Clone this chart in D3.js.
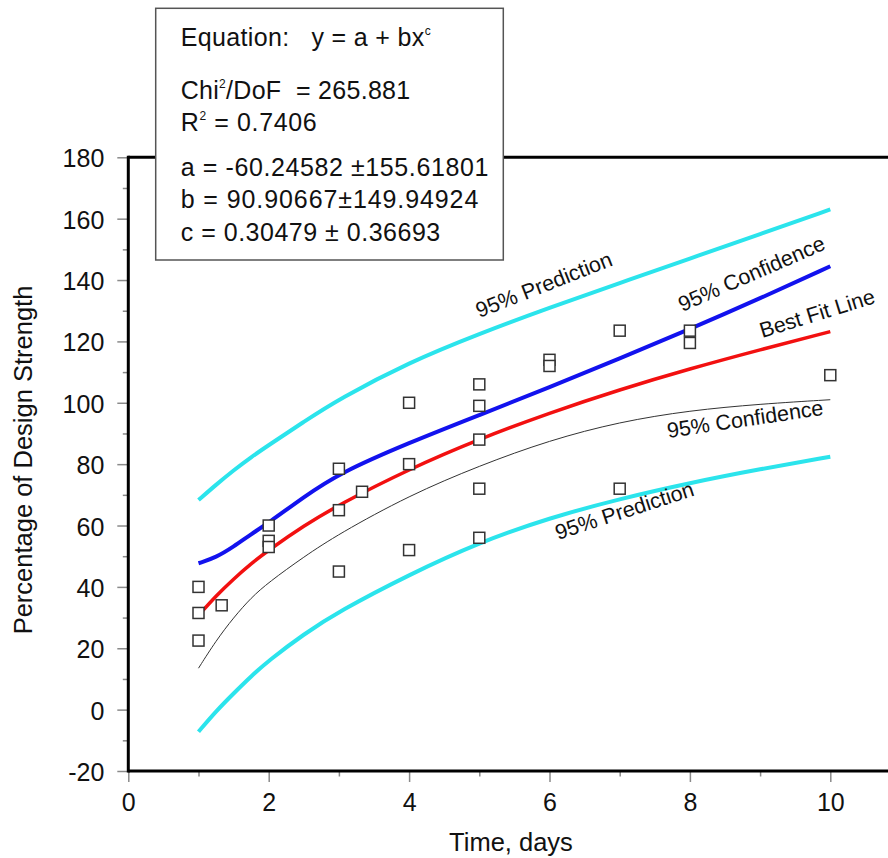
<!DOCTYPE html>
<html>
<head>
<meta charset="utf-8">
<script src="https://cdn.jsdelivr.net/npm/d3@7"></script>
<style>
  html, body { margin: 0; padding: 0; background: #fff; }
  svg { display: block; font-family: Arial, "Liberation Sans", sans-serif; }
</style>
</head>
<body>
<svg id="chart" width="888" height="858"></svg>
<script>
// Observed strengths (% of design) by age in days
const timeObs = [1, 1, 1, 1.33, 2, 2, 2, 3, 3, 3, 3.33, 4, 4, 4, 5, 5, 5, 5, 5, 6, 6, 7, 7, 8, 8, 10];
const strengthObs = [40, 31.5, 22.5, 34, 60, 55, 53, 78.5, 65, 45, 71, 100, 80, 52, 106, 99, 88, 72, 56, 114, 112, 123.5, 72, 123.5, 119.5, 109];

// Fitted curve and bands sampled along the time axis
const curveTime = [1, 1.25, 1.5, 1.75, 2, 2.5, 3, 4, 5, 6, 7, 8, 9, 10];
const bestFit   = [30.7, 37.1, 42.6, 47.6, 52.0, 59.9, 66.8, 78.4, 88.2, 96.7, 104.3, 111.1, 117.3, 123.2];
const confUpper = [47.7, 49.6, 53.1, 57.2, 60.9, 69.3, 77, 87, 96, 105, 114.5, 124, 134, 144.5];
const confLower = [13.5, 22.5, 30, 36.5, 41.5, 49.8, 57.3, 69.8, 79.5, 87.8, 93.8, 97.5, 99.6, 101];
const predUpper = [68.3, 73.3, 78, 82.3, 86.2, 93.8, 101.2, 113.2, 122.5, 131, 139, 147, 155, 163];
const predLower = [-7.2, -0.5, 5.3, 10.9, 16.0, 24.6, 32.0, 44.0, 54.5, 62.5, 68.7, 73.9, 78.4, 82.4];

// Axis ticks
const xMajorTicks = [0, 2, 4, 6, 8, 10];
const xMinorTicks = [1, 3, 5, 7, 9];
const yMajorTicks = [-20, 0, 20, 40, 60, 80, 100, 120, 140, 160, 180];
const yMinorTicks = [-10, 10, 30, 50, 70, 90, 110, 130, 150, 170];

// Curve annotations: text, start point in data units, rotation
const curveLabels = ["95% Prediction", "95% Confidence", "Best Fit Line", "95% Confidence", "95% Prediction"];
const labelTime   = [5.0, 7.89, 9.03, 7.69, 6.12];
const labelValue  = [127.6, 129.6, 121.1, 88.5, 55.3];
const labelAngle  = [-21.5, -23.6, -17.2, -8.5, -18];

// Fit statistics
const fitLines = [
  { parts: [["Equation:   y = a + bx", 0], ["c", 1]] },
  { parts: [["Chi", 0], ["2", 1], ["/DoF  = 265.881", 0]] },
  { parts: [["R", 0], ["2", 1], [" = 0.7406", 0]] },
  { parts: [["a = -60.24582 \u00B1155.61801", 0]] },
  { parts: [["b = 90.90667\u00B1149.94924", 0]] },
  { parts: [["c = 0.30479 \u00B1 0.36693", 0]] }
];
const fitBaselines = [45.5, 98.5, 131, 175.7, 208.3, 240.7];
const fitWidths = [250, 229.5, 136, 307.6, 297.6, 259.5];

const svg = d3.select("#chart");
const x = d3.scaleLinear().domain([0, 11]).range([128.3, 900.5]);
const y = d3.scaleLinear().domain([-20, 180]).range([771, 157.3]);

const tickColor = "#8a8a8a";
const fmt = d => String(d);

// Minor and major ticks
const gx = svg.append("g").attr("transform", `translate(0,${y(-20)})`);
gx.call(d3.axisBottom(x).tickValues(xMinorTicks).tickSize(5.5).tickFormat(""));
const gxMaj = svg.append("g").attr("transform", `translate(0,${y(-20)})`);
gxMaj.call(d3.axisBottom(x).tickValues(xMajorTicks).tickSize(11).tickPadding(11).tickFormat(fmt));
const gy = svg.append("g").attr("transform", `translate(${x(0)},0)`);
gy.call(d3.axisLeft(y).tickValues(yMinorTicks).tickSize(5.5).tickFormat(""));
const gyMaj = svg.append("g").attr("transform", `translate(${x(0)},0)`);
gyMaj.call(d3.axisLeft(y).tickValues(yMajorTicks).tickSize(11).tickPadding(13).tickFormat(fmt));

[gx, gxMaj, gy, gyMaj].forEach(g => {
  g.select(".domain").remove();
  g.selectAll(".tick line").attr("stroke", tickColor).attr("stroke-width", 1.5);
  g.selectAll(".tick text").attr("fill", "#111").attr("font-size", 25)
    .attr("font-family", 'Arial, "Liberation Sans", sans-serif');
});
gyMaj.selectAll(".tick text").attr("dy", "0.38em");

// Plot frame
const frame = svg.append("g").attr("fill", "none").attr("stroke", "#000").attr("stroke-width", 3);
frame.append("line").attr("x1", x(0)).attr("x2", x(11)).attr("y1", y(-20)).attr("y2", y(-20));
frame.append("line").attr("x1", x(0)).attr("x2", x(11)).attr("y1", y(180)).attr("y2", y(180));
frame.append("line").attr("x1", x(0)).attr("x2", x(0)).attr("y1", y(180) - 1.5).attr("y2", y(-20) + 1.5);
frame.append("line").attr("x1", x(11)).attr("x2", x(11)).attr("y1", y(180)).attr("y2", y(-20));

// Curves
const line = d3.line().x(d => x(d[0])).y(d => y(d[1])).curve(d3.curveBasis);
const series = [
  { values: predUpper, color: "#2be4ec", width: 4 },
  { values: predLower, color: "#2be4ec", width: 4 },
  { values: confLower, color: "#333", width: 1 },
  { values: bestFit, color: "#f21010", width: 3.5 },
  { values: confUpper, color: "#1212ee", width: 4 }
];
svg.append("g").selectAll("path").data(series).join("path")
  .attr("d", s => line(curveTime.map((t, i) => [t, s.values[i]])))
  .attr("fill", "none")
  .attr("stroke", s => s.color)
  .attr("stroke-width", s => s.width)
  .attr("stroke-linejoin", "round");

// Observations
const sq = 11;
svg.append("g").selectAll("rect").data(timeObs.map((t, i) => [t, strengthObs[i]])).join("rect")
  .attr("x", d => x(d[0]) - sq / 2)
  .attr("y", d => y(d[1]) - sq / 2)
  .attr("width", sq).attr("height", sq)
  .attr("fill", "#fff").attr("stroke", "#333").attr("stroke-width", 1.5);

// Curve labels
svg.append("g").selectAll("text").data(curveLabels).join("text")
  .attr("transform", (d, i) => `translate(${x(labelTime[i])},${y(labelValue[i])}) rotate(${labelAngle[i]})`)
  .attr("font-size", 21.5).attr("fill", "#111")
  .text(d => d);

// Axis titles
svg.append("text").attr("x", 511).attr("y", 851).attr("text-anchor", "middle")
  .attr("font-size", 25.5).attr("fill", "#111").text("Time, days");
svg.append("text").attr("transform", "translate(32,460) rotate(-90)").attr("text-anchor", "middle")
  .attr("font-size", 25.5).attr("fill", "#111").text("Percentage of Design Strength");

// Fit statistics box
const box = svg.append("g");
box.append("rect").attr("x", 155.7).attr("y", 8.3).attr("width", 347.6).attr("height", 251.7)
  .attr("fill", "#fff").attr("stroke", "#555").attr("stroke-width", 1.5);
fitLines.forEach((ln, i) => {
  const t = box.append("text").attr("x", 180.7).attr("y", fitBaselines[i])
    .attr("font-size", 25).attr("fill", "#111").attr("xml:space", "preserve")
    .attr("textLength", fitWidths[i]).attr("lengthAdjust", "spacing");
  let raised = false;
  ln.parts.forEach(([str, sup]) => {
    const ts = t.append("tspan").text(str);
    if (sup && !raised) { ts.attr("font-size", 12).attr("dy", -11); raised = true; }
    else if (!sup && raised) { ts.attr("dy", 11); raised = false; }
  });
});
</script>
</body>
</html>
